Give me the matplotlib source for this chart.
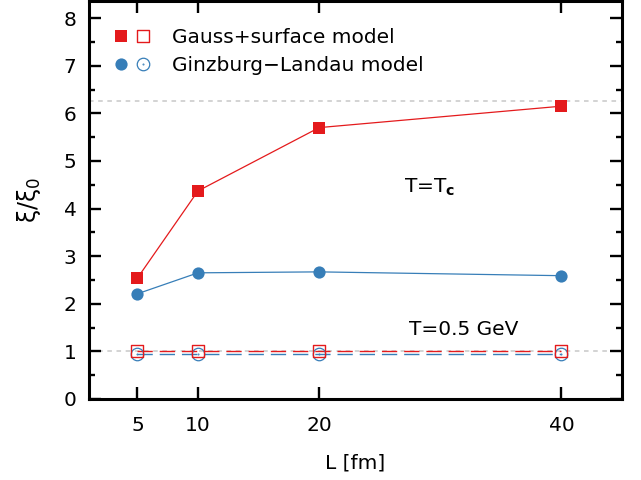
import matplotlib
matplotlib.use("Agg")
import matplotlib.pyplot as plt
import numpy as np
from matplotlib.path import Path
from matplotlib.lines import Line2D
from matplotlib.legend_handler import HandlerTuple

plt.rcParams['font.family'] = ['DejaVu Sans']
plt.rcParams['mathtext.fontset'] = 'dejavusans'

# data
L = [5, 10, 20, 40]
gauss_tc = [2.54, 4.37, 5.70, 6.15]
gl_tc = [2.21, 2.65, 2.67, 2.59]
gauss_hot = [1.00, 1.00, 1.00, 1.00]
gl_hot = [0.95, 0.95, 0.95, 0.95]
ref_levels = [1.0, 6.25]
xticks = [5, 10, 20, 40]

red = '#e41a1c'
blue = '#377eb8'
FS = 14.5

# open markers with a small dot in the middle (gnuplot style)
def dotted_marker(base):
    dot = Path(base.vertices * 0.06, base.codes)
    return Path.make_compound_path(base, dot)

sq = Path([(-1, -1), (1, -1), (1, 1), (-1, 1), (-1, -1)],
          [Path.MOVETO, Path.LINETO, Path.LINETO, Path.LINETO, Path.CLOSEPOLY])
sq_dot = dotted_marker(sq)
circ_dot = dotted_marker(Path.unit_circle())

fig = plt.figure(figsize=(6.41, 4.8), dpi=100)
ax = fig.add_axes([0.1388, 0.16875, 0.9704 - 0.1388, 0.998 - 0.16875])

for lv in ref_levels:
    ax.axhline(lv, color='#c8c8c8', lw=1.1, dashes=(3, 3), zorder=1)

# T = Tc
ax.plot(L, gauss_tc, color=red, lw=0.9, marker='s', ms=8.6, mew=0, zorder=4)
ax.plot(L, gl_tc, color=blue, lw=0.9, marker='o', ms=8.8, mew=0, zorder=3)

# T = 0.5 GeV
ax.plot(L, gl_hot, color=blue, lw=1.0, dashes=(11, 5), zorder=2)
ax.plot(L, gauss_hot, color=red, lw=1.0, dashes=(11, 5), zorder=2)
ax.plot(L, gauss_hot, ls='none', marker=sq_dot, ms=9,
        mfc='none', mec=red, mew=1.0, zorder=4)
ax.plot(L, gl_hot, ls='none', marker=circ_dot, ms=9,
        mfc='none', mec=blue, mew=0.9, zorder=3)

ax.set_xlim(1, 45)
ax.set_ylim(0, 8.36)
ax.set_xticks(xticks)
ax.set_xticklabels([str(t) for t in xticks])
ax.set_yticks(range(0, 9))
ax.set_yticks(np.arange(0.5, 8.4, 1.0), minor=True)
ax.tick_params(axis='both', which='major', direction='in', length=8.6,
               width=1.7, top=True, right=True, labelsize=FS)
ax.tick_params(axis='both', which='minor', direction='in', length=4.5,
               width=1.7, top=True, right=True)
ax.tick_params(axis='y', pad=9)
ax.tick_params(axis='x', pad=12)
for s in ax.spines.values():
    s.set_linewidth(2.2)

ax.set_xlabel('L [fm]', fontsize=FS, labelpad=13.5)
ax.set_ylabel(r'$\mathrm{\xi/\xi_0}$', fontsize=17, labelpad=15)

ax.text(27.0, 4.33, r'T=T$_\mathbf{c}$', fontsize=FS, va='baseline')
ax.text(27.4, 1.34, 'T=0.5 GeV', fontsize=FS, va='baseline')

# legend proxies (markers only, as in the reference key)
k1 = Line2D([], [], ls='none', marker='s', ms=8.6, mew=0, color=red)
k2 = Line2D([], [], ls='none', marker=sq_dot, ms=9, mfc='none', mec=red, mew=1.0)
k3 = Line2D([], [], ls='none', marker='o', ms=8.8, mew=0, color=blue)
k4 = Line2D([], [], ls='none', marker=circ_dot, ms=9, mfc='none', mec=blue, mew=0.9)
ax.legend([(k1, k2), (k3, k4)],
          ['Gauss+surface model', 'Ginzburg\u2212Landau model'],
          handler_map={tuple: HandlerTuple(ndivide=None, pad=0)},
          loc='upper left', bbox_to_anchor=(0.04, 0.932), frameon=False,
          fontsize=FS, handlelength=44 / (FS * 100 / 72),
          handletextpad=0.9, labelspacing=0.45, borderpad=0, borderaxespad=0)

fig.savefig('out.png', dpi=100)
